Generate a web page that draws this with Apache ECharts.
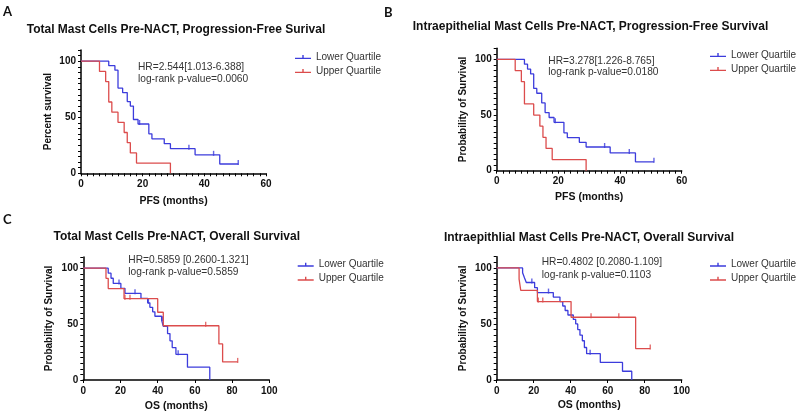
<!DOCTYPE html>
<html><head><meta charset="utf-8">
<script src="https://cdn.jsdelivr.net/npm/echarts@6/dist/echarts.min.js"></script>
<style>html,body{margin:0;padding:0;background:#fff}#c{width:798px;height:417px}</style>
</head><body><div id="c"></div>
<script>
// ---------- Panel A: Total mast cells, PFS ----------
const aLowerTime = [0, 9, 11, 12, 13.5, 15, 16, 17, 18.5, 22, 23, 27, 29, 37, 45, 51];
const aLowerSurv = [100, 96, 92, 76, 72, 64, 60, 48, 44, 35.2, 30.8, 26.4, 22, 16.5, 8.3, 8.3];
const aLowerCensTime = [19, 35, 43, 51];
const aLowerCensSurv = [44, 22, 16.5, 8.3];
const aUpperTime = [0, 6, 8, 9, 10, 12, 14, 15, 16, 18, 29];
const aUpperSurv = [100, 90.9, 81.8, 63.6, 54.5, 45.5, 36.4, 27.3, 18.2, 9.1, 0];
const aUpperCensTime = [];
const aUpperCensSurv = [];
// ---------- Panel B: Intraepithelial mast cells, PFS ----------
const bLowerTime = [0, 9, 10, 11, 12, 13, 14.6, 15.7, 17, 18.6, 21.8, 22.9, 26.8, 29, 36.8, 45, 51];
const bLowerSurv = [100, 95.7, 91.3, 87, 73.9, 69.6, 60.9, 52.2, 47.8, 43.5, 34, 29.8, 25.5, 21.3, 16, 8, 8];
const bLowerCensTime = [19, 35, 43, 51];
const bLowerCensSurv = [43.5, 21.3, 16, 8];
const bUpperTime = [0, 6, 8, 9, 12, 14, 15, 16, 18, 29];
const bUpperSurv = [100, 90, 80, 60, 50, 40, 30, 20, 10, 0];
const bUpperCensTime = [];
const bUpperCensSurv = [];
// ---------- Panel C: Total mast cells, OS ----------
const cLowerTime = [0, 13.4, 14.9, 16.1, 20.2, 22.4, 31, 34.6, 35.8, 37.3, 38.5, 42.1, 43, 45.3, 46.6, 47.8, 49.8, 56, 68];
const cLowerSurv = [100, 95.5, 91, 86.4, 82, 77.5, 73, 69, 65, 61, 57, 53.5, 48, 41.5, 35, 29, 23, 11.5, 0];
const cLowerCensTime = [19.2, 27.8, 35, 42.7, 51];
const cLowerCensSurv = [86.4, 77.5, 69, 53.5, 23];
const cUpperTime = [0, 12.2, 13.4, 21.9, 40, 43, 72.9, 74.9, 83];
const cUpperSurv = [100, 90.9, 81.8, 72.7, 60.6, 48.5, 32.3, 16.2, 16.2];
const cUpperCensTime = [22.4, 25.1, 65.8, 83];
const cUpperCensSurv = [72.7, 72.7, 48.5, 16.2];
// ---------- Panel D: Intraepithelial mast cells, OS ----------
const dLowerTime = [0, 14, 15, 16, 20.5, 22, 30.6, 34.2, 35.7, 37, 38.5, 41.4, 42.7, 43.8, 45, 46.3, 47.4, 48.6, 56, 68, 73];
const dLowerSurv = [100, 95.7, 91.3, 87, 82.4, 78, 74, 70, 66, 62, 58, 54, 50, 45, 40, 35, 29, 23.5, 15.7, 7.8, 0];
const dLowerCensTime = [19, 28, 50.5];
const dLowerCensSurv = [87, 78, 23.5];
const dUpperTime = [0, 12.1, 13, 22, 40.2, 75.1, 83];
const dUpperSurv = [100, 90, 80, 70, 56, 28, 28];
const dUpperCensTime = [22.5, 24.9, 51, 66, 83];
const dUpperCensSurv = [70, 70, 56, 56, 28];

const titles = [
  'Total Mast Cells Pre-NACT, Progression-Free Surival',
  'Intraepithelial Mast Cells Pre-NACT, Progression-Free Survival',
  'Total Mast Cells Pre-NACT, Overall Survival',
  'Intraepithlial Mast Cells Pre-NACT, Overall Survival'
];
const hrLines = [
  ['HR=2.544[1.013-6.388]', 'log-rank p-value=0.0060'],
  ['HR=3.278[1.226-8.765]', 'log-rank p-value=0.0180'],
  ['HR=0.5859 [0.2600-1.321]', 'log-rank p-value=0.5859'],
  ['HR=0.4802 [0.2080-1.109]', 'log-rank p-value=0.1103']
];
const yNames = ['Percent survival', 'Probability of Survival', 'Probability of Survival', 'Probability of Survival'];
const xNames = ['PFS (months)', 'PFS (months)', 'OS (months)', 'OS (months)'];
const panelLetters = ['A', 'B', 'C'];
const legendNames = ['Lower Quartile', 'Upper Quartile'];

const zip = (t, s) => t.map((v, i) => [v, s[i]]);
const panels = [
  {lower: zip(aLowerTime, aLowerSurv), lowerC: zip(aLowerCensTime, aLowerCensSurv), upper: zip(aUpperTime, aUpperSurv), upperC: zip(aUpperCensTime, aUpperCensSurv)},
  {lower: zip(bLowerTime, bLowerSurv), lowerC: zip(bLowerCensTime, bLowerCensSurv), upper: zip(bUpperTime, bUpperSurv), upperC: zip(bUpperCensTime, bUpperCensSurv)},
  {lower: zip(cLowerTime, cLowerSurv), lowerC: zip(cLowerCensTime, cLowerCensSurv), upper: zip(cUpperTime, cUpperSurv), upperC: zip(cUpperCensTime, cUpperCensSurv)},
  {lower: zip(dLowerTime, dLowerSurv), lowerC: zip(dLowerCensTime, dLowerCensSurv), upper: zip(dUpperTime, dUpperSurv), upperC: zip(dUpperCensTime, dUpperCensSurv)}
];

const BLUE = '#3c3cdc', RED = '#dc4c4c';
const FONT = '"Liberation Sans", Arial, sans-serif';

// layout
const grids = [
  {left: 81, top: 50, width: 185, height: 123.3},
  {left: 496.7, top: 48.3, width: 185, height: 122.4},
  {left: 83.3, top: 257, width: 186, height: 123},
  {left: 496.7, top: 256.7, width: 185, height: 123.3}
];
const xCfg = [
  {max: 60, interval: 2, lab: 20, gap: 22},
  {max: 60, interval: 2, lab: 20, gap: 21},
  {max: 100, interval: 20, lab: 20, gap: 21},
  {max: 100, interval: 20, lab: 20, gap: 20}
];
const yGap = [28, 28, 29.5, 28];
const titlePos = [[176, 30], [590.5, 26.7], [176.7, 236.7], [589, 237.3]];
const hrPos = [[138, 66.7, 79.3], [548.3, 61, 72.5], [128.3, 260, 271.7], [541.7, 262.3, 275]];
const legendPos = [[295, 52], [710, 50], [297.7, 259.7], [710, 259.7]];
const letterPos = [[3, 12], [384, 13], [3, 220]];

const axisLine = {show: true, lineStyle: {color: '#000', width: 1.5}};
const xAxes = [], yAxes = [], series = [], graphics = [], legends = [];
panels.forEach((p, i) => {
  const xc = xCfg[i];
  xAxes.push({
    type: 'value', gridIndex: i, min: 0, max: xc.max, interval: xc.interval,
    axisLine, splitLine: {show: false},
    axisTick: {show: true, length: 3, lineStyle: {color: '#000', width: 1}},
    axisLabel: {margin: 6, color: '#111', fontWeight: 'bold', fontSize: 10, fontFamily: FONT,
      formatter: v => (Math.abs(v % xc.lab) < 1e-9 ? String(v) : '')},
    name: xNames[i], nameLocation: 'middle', nameGap: xc.gap,
    nameTextStyle: {color: '#111', fontWeight: 'bold', fontSize: 10.5, fontFamily: FONT}
  });
  yAxes.push({
    type: 'value', gridIndex: i, min: 0, max: 110, interval: 5,
    axisLine, splitLine: {show: false},
    axisTick: {show: true, length: 3, lineStyle: {color: '#000', width: 1}},
    axisLabel: {margin: 5, color: '#111', fontWeight: 'bold', fontSize: 10, fontFamily: FONT,
      formatter: v => (v % 50 === 0 ? String(v) : '')},
    name: yNames[i], nameLocation: 'middle', nameGap: yGap[i], nameRotate: 90,
    nameTextStyle: {color: '#111', fontWeight: 'bold', fontSize: 10, fontFamily: FONT}
  });
  const line = (name, data, color) => ({
    name, type: 'line', xAxisIndex: i, yAxisIndex: i, data, step: 'end',
    showSymbol: false, symbol: 'none', lineStyle: {color, width: 1.3}, itemStyle: {color},
    animation: false, silent: true
  });
  const cens = (name, data, color) => ({
    name, type: 'scatter', xAxisIndex: i, yAxisIndex: i, data,
    symbol: 'rect', symbolSize: [1.4, 5], symbolOffset: [0, -1.5],
    itemStyle: {color}, animation: false, silent: true
  });
  series.push(line('Lower Quartile', p.lower, BLUE));
  series.push(line('Upper Quartile', p.upper, RED));
  series.push(cens('Lower censored', p.lowerC, BLUE));
  series.push(cens('Upper censored', p.upperC, RED));

  graphics.push({type: 'text', x: titlePos[i][0], y: titlePos[i][1],
    style: {text: titles[i], textAlign: 'center', textVerticalAlign: 'middle', verticalAlign: 'middle',
      font: 'bold 12px ' + FONT, fill: '#111'}});
  graphics.push({type: 'text', x: hrPos[i][0], y: hrPos[i][1],
    style: {text: hrLines[i][0], textAlign: 'left', textVerticalAlign: 'middle', verticalAlign: 'middle',
      font: '10.2px ' + FONT, fill: '#333'}});
  graphics.push({type: 'text', x: hrPos[i][0], y: hrPos[i][2],
    style: {text: hrLines[i][1], textAlign: 'left', textVerticalAlign: 'middle', verticalAlign: 'middle',
      font: '10.2px ' + FONT, fill: '#333'}});
  legends.push({
    data: legendNames, orient: 'vertical', left: legendPos[i][0], top: legendPos[i][1],
    itemWidth: 16, itemHeight: 6, itemGap: 4, padding: 0,
    icon: 'path://M0,4.2L16,4.2L16,5.6L0,5.6Z M7.3,1.5L8.7,1.5L8.7,4.2L7.3,4.2Z',
    itemStyle: {borderWidth: 0}, lineStyle: {width: 0},
    textStyle: {color: '#333', fontSize: 10, fontFamily: FONT}, selectedMode: false
  });
});
panelLetters.forEach((l, i) => {
  graphics.push({type: 'text', x: letterPos[i][0], y: letterPos[i][1],
    style: {text: l, textAlign: 'left', textVerticalAlign: 'middle', verticalAlign: 'middle',
      font: 'bold 13px Lato, "Open Sans", sans-serif', fill: '#111'}});
});

const chart = echarts.init(document.getElementById('c'), null, {renderer: 'canvas'});
chart.setOption({
  animation: false, backgroundColor: '#fff',
  grid: grids, xAxis: xAxes, yAxis: yAxes, series, legend: legends, graphic: graphics
});
</script></body></html>
